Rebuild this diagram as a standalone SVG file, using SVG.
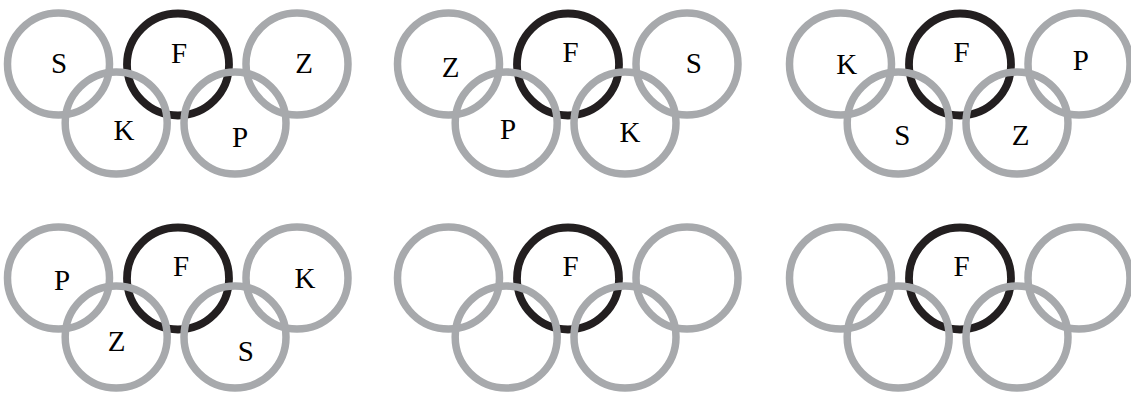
<svg xmlns="http://www.w3.org/2000/svg" width="1131" height="394" viewBox="0 0 1131 394">
<style>
.g{fill:none;stroke:#a7a9ac;stroke-width:7.5}
.k{fill:none;stroke:#231f20;stroke-width:7.8}
text{font-family:"Liberation Serif","Times New Roman",serif;font-size:29px;fill:#000;text-anchor:middle}
</style>
<defs>
<g id="rings">
<circle class="k" cx="178" cy="64.5" r="51"/>
<circle class="g" cx="58.5" cy="64" r="51"/>
<circle class="g" cx="297" cy="64" r="51"/>
<circle class="g" cx="116.2" cy="123" r="51"/>
<circle class="g" cx="235" cy="123" r="51"/>
</g>
</defs>
<g id="set1">
<use href="#rings"/>
<g id="set1-S"><text x="59" y="73">S</text></g>
<g id="set1-F"><text x="179" y="63">F</text></g>
<g id="set1-Z"><text x="304" y="73">Z</text></g>
<g id="set1-K"><text x="124" y="140">K</text></g>
<g id="set1-P"><text x="240" y="147">P</text></g>
</g>
<g id="set2" transform="translate(390,0)">
<use href="#rings"/>
<g id="set2-Z"><text x="60.7" y="77">Z</text></g>
<g id="set2-F"><text x="180.5" y="62">F</text></g>
<g id="set2-S"><text x="303.7" y="73">S</text></g>
<g id="set2-P"><text x="118" y="138.5">P</text></g>
<g id="set2-K"><text x="240" y="142">K</text></g>
</g>
<g id="set3" transform="translate(782,0)">
<use href="#rings"/>
<g id="set3-K"><text x="64.7" y="74">K</text></g>
<g id="set3-F"><text x="179.5" y="62">F</text></g>
<g id="set3-P"><text x="298.7" y="70">P</text></g>
<g id="set3-S"><text x="120.3" y="145">S</text></g>
<g id="set3-Z"><text x="238.7" y="145">Z</text></g>
</g>
<g id="set4" transform="translate(0,214)">
<use href="#rings"/>
<g id="set4-P"><text x="62" y="76">P</text></g>
<g id="set4-F"><text x="181" y="62">F</text></g>
<g id="set4-K"><text x="305" y="74.3">K</text></g>
<g id="set4-Z"><text x="116.7" y="136.7">Z</text></g>
<g id="set4-S"><text x="245.7" y="146.7">S</text></g>
</g>
<g id="set5" transform="translate(390,214)">
<use href="#rings"/>
<g id="set5-F"><text x="180.5" y="62">F</text></g>
</g>
<g id="set6" transform="translate(782,214)">
<use href="#rings"/>
<g id="set6-F"><text x="179.5" y="62">F</text></g>
</g>
<g id="connectors"/>
</svg>
